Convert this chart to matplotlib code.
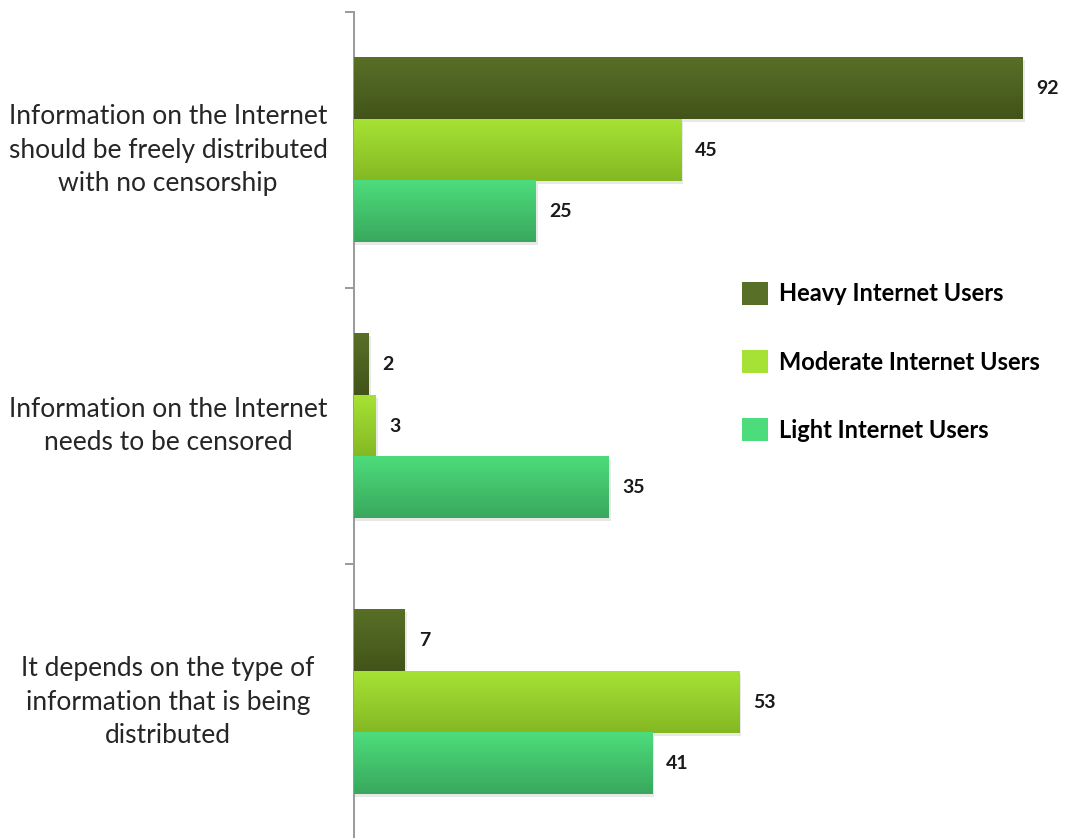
import numpy as np
import matplotlib.pyplot as plt
from matplotlib.patches import Patch, Rectangle
from matplotlib.colors import to_rgb
from matplotlib.transforms import blended_transform_factory

plt.rcParams["font.family"] = ["Lato", "DejaVu Sans"]

categories = [
    "Information on the Internet\nshould be freely distributed\nwith no censorship",
    "Information on the Internet\nneeds to be censored",
    "It depends on the type of\ninformation that is being\ndistributed",
]
series_names = ["Heavy Internet Users", "Moderate Internet Users", "Light Internet Users"]
heavy = [92, 2, 7]
moderate = [45, 3, 53]
light = [25, 35, 41]

# top / bottom colour of the vertical gradient on each series
grad_colors = [
    ("#586f27", "#425419"),
    ("#a6e235", "#84b823"),
    ("#4ddc7c", "#39a85d"),
]

fig = plt.figure(figsize=(10.65, 8.38), dpi=100)
ax = fig.add_axes([354 / 1065, -2 / 838, 711 / 1065, 828 / 838])

bar_h = 0.223
y = np.arange(len(categories))
series = [heavy, moderate, light]

for i, (vals, (top, bot)) in enumerate(zip(series, grad_colors)):
    ypos = y + (i - 1) * bar_h
    bars = ax.barh(ypos, vals, height=bar_h, color=top, zorder=2, linewidth=0)
    grad = np.linspace(0, 1, 64)[:, None, None]
    img = (1 - grad) * np.array(to_rgb(top)) + grad * np.array(to_rgb(bot))
    for v, yp in zip(vals, ypos):
        y0, y1 = yp - bar_h / 2, yp + bar_h / 2
        # soft drop shadow
        ax.add_patch(Rectangle((0, y0 + 0.01), v + 0.3, bar_h, color="#000000",
                               alpha=0.09, zorder=1, linewidth=0))
        ax.imshow(img, extent=(0, v, y1, y0), aspect="auto", zorder=3,
                  interpolation="bilinear")
        ax.annotate(str(v), (v, yp), xytext=(10, 0), textcoords="offset points",
                    va="center", ha="left", fontsize=14, fontweight="bold",
                    color="#1a1a1a")

ax.set_xlim(0, 97.8)
ax.set_ylim(2.5, -0.5)

# category boundaries as ticks, labels drawn separately
ax.set_yticks([-0.5, 0.5, 1.5, 2.5])
ax.set_yticklabels([])
ax.tick_params(axis="y", direction="out", length=6.5, width=1.4, color="#9a9a9a")
ax.set_xticks([])
for s in ["top", "right", "bottom"]:
    ax.spines[s].set_visible(False)
ax.spines["left"].set_color("#9a9a9a")
ax.spines["left"].set_linewidth(1.4)

trans = blended_transform_factory(fig.transFigure, ax.transData)
for yi, lab in zip(y, categories):
    ax.text(168 / 1065, yi, lab, transform=trans, ha="center", va="center",
            multialignment="center", fontsize=19, color="#262626",
            linespacing=1.42)

handles = [Patch(facecolor=c[0], edgecolor="none") for c in grad_colors]
fig.legend(handles, series_names, loc="upper left",
           bbox_to_anchor=(742 / 1065, (838 - 282) / 838),
           frameon=False, borderpad=0, borderaxespad=0,
           prop={"weight": "bold", "size": 17},
           handlelength=1.1, handleheight=1.1, handletextpad=0.45,
           labelspacing=1.9)

fig.savefig("out.png", dpi=100)
